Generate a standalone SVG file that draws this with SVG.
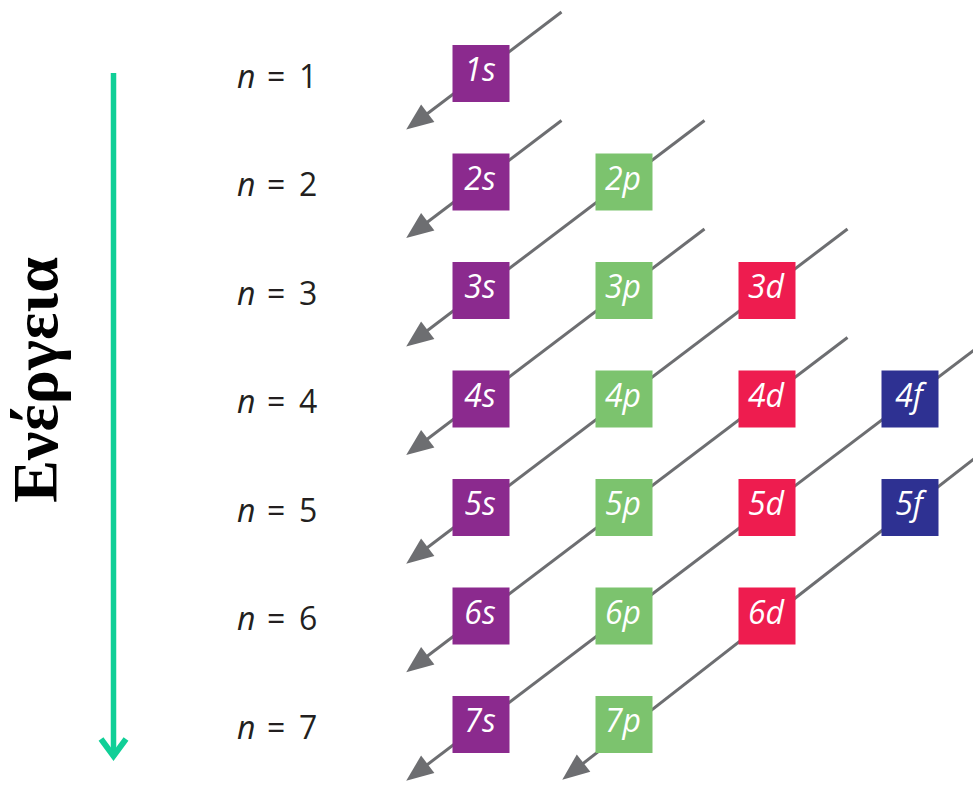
<svg xmlns="http://www.w3.org/2000/svg" width="973" height="785" viewBox="0 0 973 785">
<style>
.box-s{fill:#8b2a8e}
.box-p{fill:#7cc36e}
.box-d{fill:#ee1c4f}
.box-f{fill:#2e3192}
.bl{font-family:"Open Sans","Noto Sans",sans-serif;font-style:italic;font-size:32px;fill:#ffffff;text-anchor:middle}
.nl{font-family:"Open Sans","Noto Sans",sans-serif;font-size:32px;fill:#231f20}
.conn{stroke:#6d6e71;stroke-width:3;fill:none;marker-end:url(#ah)}
</style>
<defs>
<marker id="ah" markerUnits="userSpaceOnUse" markerWidth="27" markerHeight="22" refX="21" refY="11" orient="auto" overflow="visible">
<path d="M0,0 L27,11 L0,22 z" fill="#6d6e71"/>
</marker>
</defs>
<rect width="973" height="785" fill="#ffffff"/>
<g id="energy-axis">
<line x1="113.5" y1="73" x2="113.5" y2="754" stroke="#10cf97" stroke-width="5.5"/>
<polyline points="101,739 113.5,756 126,739" fill="none" stroke="#10cf97" stroke-width="6"/>
<text transform="translate(57,380) rotate(-90)" text-anchor="middle" font-family="Liberation Serif,serif" font-weight="bold" font-size="64" fill="#000000">Ενέργεια</text>
</g>
<g id="connectors">
<line class="conn" x1="561.5" y1="12" x2="411" y2="126"/>
<line class="conn" x1="561.5" y1="120.5" x2="411" y2="234.5"/>
<line class="conn" x1="704.5" y1="120.5" x2="411" y2="343"/>
<line class="conn" x1="704.5" y1="229" x2="411" y2="451.5"/>
<line class="conn" x1="847.5" y1="229" x2="411" y2="560"/>
<line class="conn" x1="847.5" y1="337.5" x2="411" y2="668.5"/>
<line class="conn" x1="990.5" y1="337.5" x2="411" y2="777"/>
<line class="conn" x1="975" y1="458" x2="567" y2="776"/>
</g>
<g id="levels">
<text class="nl" y="87.5"><tspan x="237" font-style="italic">n</tspan><tspan x="267">=</tspan><tspan x="299">1</tspan></text>
<text class="nl" y="196"><tspan x="237" font-style="italic">n</tspan><tspan x="267">=</tspan><tspan x="299">2</tspan></text>
<text class="nl" y="304.5"><tspan x="237" font-style="italic">n</tspan><tspan x="267">=</tspan><tspan x="299">3</tspan></text>
<text class="nl" y="413"><tspan x="237" font-style="italic">n</tspan><tspan x="267">=</tspan><tspan x="299">4</tspan></text>
<text class="nl" y="521.5"><tspan x="237" font-style="italic">n</tspan><tspan x="267">=</tspan><tspan x="299">5</tspan></text>
<text class="nl" y="630"><tspan x="237" font-style="italic">n</tspan><tspan x="267">=</tspan><tspan x="299">6</tspan></text>
<text class="nl" y="738.5"><tspan x="237" font-style="italic">n</tspan><tspan x="267">=</tspan><tspan x="299">7</tspan></text>
</g>
<g id="n1s"><rect class="box-s" x="452.5" y="45" width="57" height="57"/><text class="bl" x="480" y="81">1s</text></g>
<g id="n2s"><rect class="box-s" x="452.5" y="153.5" width="57" height="57"/><text class="bl" x="480" y="189.5">2s</text></g>
<g id="n2p"><rect class="box-p" x="595.5" y="153.5" width="57" height="57"/><text class="bl" x="623" y="189.5">2p</text></g>
<g id="n3s"><rect class="box-s" x="452.5" y="262" width="57" height="57"/><text class="bl" x="480" y="298">3s</text></g>
<g id="n3p"><rect class="box-p" x="595.5" y="262" width="57" height="57"/><text class="bl" x="623" y="298">3p</text></g>
<g id="n3d"><rect class="box-d" x="738.5" y="262" width="57" height="57"/><text class="bl" x="766" y="298">3d</text></g>
<g id="n4s"><rect class="box-s" x="452.5" y="370.5" width="57" height="57"/><text class="bl" x="480" y="406.5">4s</text></g>
<g id="n4p"><rect class="box-p" x="595.5" y="370.5" width="57" height="57"/><text class="bl" x="623" y="406.5">4p</text></g>
<g id="n4d"><rect class="box-d" x="738.5" y="370.5" width="57" height="57"/><text class="bl" x="766" y="406.5">4d</text></g>
<g id="n4f"><rect class="box-f" x="881.5" y="370.5" width="57" height="57"/><text class="bl" x="909" y="406.5">4f</text></g>
<g id="n5s"><rect class="box-s" x="452.5" y="479" width="57" height="57"/><text class="bl" x="480" y="515">5s</text></g>
<g id="n5p"><rect class="box-p" x="595.5" y="479" width="57" height="57"/><text class="bl" x="623" y="515">5p</text></g>
<g id="n5d"><rect class="box-d" x="738.5" y="479" width="57" height="57"/><text class="bl" x="766" y="515">5d</text></g>
<g id="n5f"><rect class="box-f" x="881.5" y="479" width="57" height="57"/><text class="bl" x="909" y="515">5f</text></g>
<g id="n6s"><rect class="box-s" x="452.5" y="587.5" width="57" height="57"/><text class="bl" x="480" y="623.5">6s</text></g>
<g id="n6p"><rect class="box-p" x="595.5" y="587.5" width="57" height="57"/><text class="bl" x="623" y="623.5">6p</text></g>
<g id="n6d"><rect class="box-d" x="738.5" y="587.5" width="57" height="57"/><text class="bl" x="766" y="623.5">6d</text></g>
<g id="n7s"><rect class="box-s" x="452.5" y="696" width="57" height="57"/><text class="bl" x="480" y="732">7s</text></g>
<g id="n7p"><rect class="box-p" x="595.5" y="696" width="57" height="57"/><text class="bl" x="623" y="732">7p</text></g>
</svg>
